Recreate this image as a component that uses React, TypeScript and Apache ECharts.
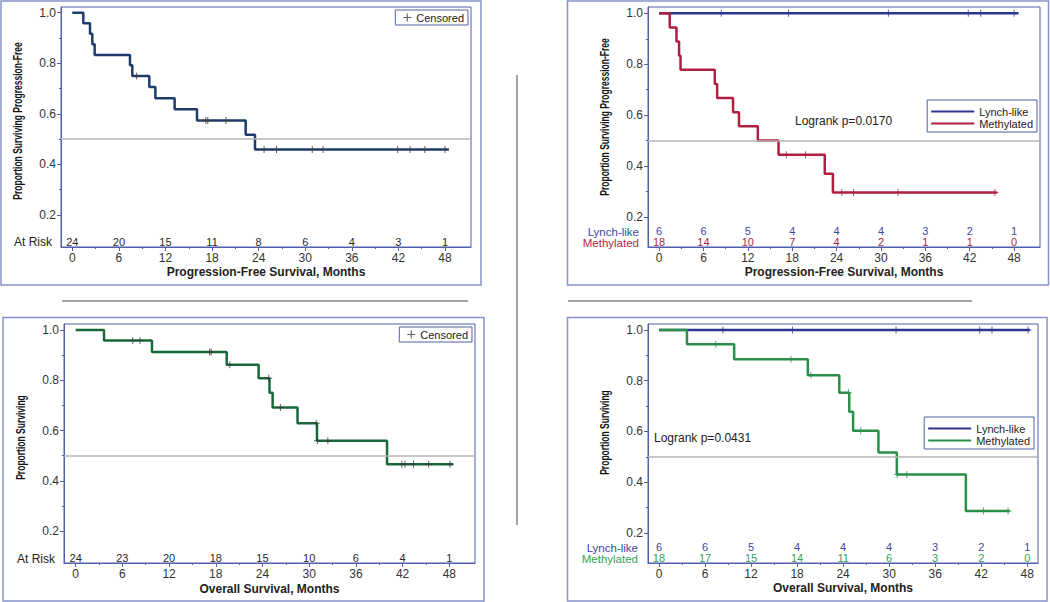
import React, { useEffect, useRef } from "react";
import * as echarts from "echarts";

// ---------- axis ticks ----------
const MONTH_TICKS = [0, 6, 12, 18, 24, 30, 36, 42, 48];
const MONTH_MINOR = [3, 9, 15, 21, 27, 33, 39, 45];
const Y_TICKS = [0.2, 0.4, 0.6, 0.8, 1.0];
const Y_MINOR = [0.3, 0.5, 0.7, 0.9];

// ---------- Panel A: PFS, all patients ----------
const pfsAllTime = [0, 1.42, 2.28, 2.58, 2.88, 7.43, 7.73, 9.92, 10.7, 13.18, 16.06, 22.33, 23.53, 48.5];
const pfsAllSurv = [1.0, 0.958, 0.917, 0.875, 0.833, 0.792, 0.75, 0.706, 0.662, 0.618, 0.574, 0.517, 0.459, 0.459];
const pfsAllCensTime = [8.29, 17.2, 17.45, 19.8, 24.7, 26.3, 30.9, 32.3, 41.9, 43.5, 45.4, 48.0];
const pfsAllCensSurv = [0.75, 0.574, 0.574, 0.574, 0.459, 0.459, 0.459, 0.459, 0.459, 0.459, 0.459, 0.459];
const pfsAllAtRisk = [24, 20, 15, 11, 8, 6, 4, 3, 1];

// ---------- Panel B: PFS by group ----------
const pfsLynchTime = [0, 48.6];
const pfsLynchSurv = [1.0, 1.0];
const pfsLynchCensTime = [8.4, 17.5, 31.0, 41.8, 43.5, 48.0];
const pfsLynchCensSurv = [1.0, 1.0, 1.0, 1.0, 1.0, 1.0];
const pfsMethTime = [0, 1.44, 2.35, 2.7, 2.9, 7.53, 7.85, 10.0, 10.8, 13.35, 16.15, 22.4, 23.5, 45.7];
const pfsMethSurv = [1.0, 0.944, 0.889, 0.833, 0.778, 0.722, 0.667, 0.611, 0.556, 0.5, 0.444, 0.37, 0.296, 0.296];
const pfsMethCensTime = [17.2, 19.8, 24.7, 26.3, 32.3, 45.4];
const pfsMethCensSurv = [0.444, 0.444, 0.296, 0.296, 0.296, 0.296];
const pfsLynchAtRisk = [6, 6, 5, 4, 4, 4, 3, 2, 1];
const pfsMethAtRisk = [18, 14, 10, 7, 4, 2, 1, 1, 0];
const pfsLogrank = "Logrank p=0.0170";

// ---------- Panel C: OS, all patients ----------
const osAllTime = [0, 3.64, 9.8, 19.4, 23.5, 24.9, 25.3, 28.5, 31.0, 40.0, 48.5];
const osAllSurv = [1.0, 0.958, 0.913, 0.862, 0.808, 0.75, 0.692, 0.629, 0.559, 0.466, 0.466];
const osAllCensTime = [7.33, 8.27, 17.2, 17.4, 19.8, 24.8, 26.3, 30.9, 31.05, 32.4, 41.9, 42.3, 43.4, 45.35, 48.1];
const osAllCensSurv = [0.958, 0.958, 0.913, 0.913, 0.862, 0.808, 0.692, 0.629, 0.559, 0.559, 0.466, 0.466, 0.466, 0.466, 0.466];
const osAllAtRisk = [24, 23, 20, 18, 15, 10, 6, 4, 1];

// ---------- Panel D: OS by group ----------
const osLynchTime = [0, 48.35];
const osLynchSurv = [1.0, 1.0];
const osLynchCensTime = [8.33, 17.4, 30.9, 41.8, 43.4, 48.1];
const osLynchCensSurv = [1.0, 1.0, 1.0, 1.0, 1.0, 1.0];
const osMethTime = [0, 3.65, 9.8, 19.4, 23.5, 24.8, 25.3, 28.6, 31.0, 40.0, 45.7];
const osMethSurv = [1.0, 0.944, 0.885, 0.822, 0.753, 0.678, 0.603, 0.517, 0.431, 0.287, 0.287];
const osMethCensTime = [7.4, 17.2, 19.8, 24.7, 26.3, 31.05, 32.3, 42.3, 45.5];
const osMethCensSurv = [0.944, 0.885, 0.822, 0.753, 0.603, 0.431, 0.431, 0.287, 0.287];
const osLynchAtRisk = [6, 6, 5, 4, 4, 4, 3, 2, 1];
const osMethAtRisk = [18, 17, 15, 14, 11, 6, 3, 2, 0];
const osLogrank = "Logrank p=0.0431";

// ---------- styles ----------
const FONT = "'Liberation Sans', Arial, Helvetica, sans-serif";
const FRAME = "#4f5fae";
const OUTER = "#8593cc";
const SEP = "#a3a3a3";
const NAVY = "#1f3a6c";
const LYNCH = "#2c3590";
const LYNCH_TXT = "#3e47a2";
const METH_PFS = "#b01f3f";
const OS_ALL = "#17693a";
const METH_OS = "#2a8f49";
const METH_OS_TXT = "#35a356";
const CENS = "#3a3a3a";
const RISK_TXT = "#2a2a2a";
const PLUS = "path://M4.3,0H5.7V4.3H10V5.7H5.7V10H4.3V5.7H0V4.3H4.3Z";
const LINE_ICON = "path://M0,0H0.01V0.01H0Z M0,4.5H43V6.5H0Z M42.99,10.99H43V11H42.99Z";

const pairs = (t: number[], s: number[]) => t.map((x, i) => [x, s[i]]);

type Panel = {
  grid: { left: number; top: number; width: number; height: number };
  xMin: number; xMax: number; yMin: number; yMax: number;
  xName: string; xNameGap: number;
};

const panels: Panel[] = [
  { grid: { left: 61, top: 7, width: 410, height: 240 }, xMin: -1.455, xMax: 51.35, yMin: 0.0735, yMax: 1.0225, xName: "Progression-Free Survival, Months", xNameGap: 19 },
  { grid: { left: 648, top: 7, width: 392, height: 240 }, xMin: -1.5, xMax: 51.5, yMin: 0.082, yMax: 1.025, xName: "Progression-Free Survival, Months", xNameGap: 19 },
  { grid: { left: 64, top: 324, width: 411, height: 239 }, xMin: -1.5, xMax: 51.3, yMin: 0.0726, yMax: 1.024, xName: "Overall Survival, Months", xNameGap: 20 },
  { grid: { left: 648, top: 324, width: 390, height: 239 }, xMin: -1.43, xMax: 49.4, yMin: 0.0818, yMax: 1.0236, xName: "Overall Survival, Months", xNameGap: 19 },
];

export default function App() {
  const ref = useRef<HTMLDivElement>(null);

  useEffect(() => {
    if (!ref.current) return;
    const chart = echarts.init(ref.current, undefined, { renderer: "svg" });

    const grids: any[] = [];
    const xAxes: any[] = [];
    const yAxes: any[] = [];
    const series: any[] = [];
    const mainX: number[] = [];
    const mainY: number[] = [];

    panels.forEach((p, i) => {
      grids.push({ ...p.grid, show: true, borderColor: FRAME, borderWidth: 1, backgroundColor: "transparent" });
      mainX.push(xAxes.length);
      xAxes.push({
        gridIndex: i, type: "value", min: p.xMin, max: p.xMax, position: "bottom",
        axisLine: { show: true, onZero: false, lineStyle: { color: FRAME, width: 1 } },
        axisTick: { show: true, length: 4, customValues: MONTH_TICKS, lineStyle: { color: FRAME } },
        axisLabel: { show: true, customValues: MONTH_TICKS, margin: 5, color: "#333", fontSize: 12, fontFamily: FONT },
        splitLine: { show: false },
        name: p.xName, nameLocation: "middle", nameGap: p.xNameGap,
        nameTextStyle: { fontWeight: "bold", fontSize: 12, color: "#222", fontFamily: FONT },
      });
      xAxes.push({
        gridIndex: i, type: "value", min: p.xMin, max: p.xMax, position: "bottom",
        axisLine: { show: false, onZero: false },
        axisTick: { show: true, length: 2, customValues: MONTH_MINOR, lineStyle: { color: FRAME } },
        axisLabel: { show: false },
        splitLine: { show: false },
      });
      mainY.push(yAxes.length);
      yAxes.push({
        gridIndex: i, type: "value", min: p.yMin, max: p.yMax, position: "left",
        axisLine: { show: true, onZero: false, lineStyle: { color: FRAME, width: 1 } },
        axisTick: { show: true, length: 4, customValues: Y_TICKS, lineStyle: { color: FRAME } },
        axisLabel: { show: true, customValues: Y_TICKS, margin: 5, color: "#333", fontSize: 12, fontFamily: FONT, formatter: (v: number) => v.toFixed(1) },
        splitLine: { show: false },
      });
      yAxes.push({
        gridIndex: i, type: "value", min: p.yMin, max: p.yMax, position: "left",
        axisLine: { show: false, onZero: false },
        axisTick: { show: true, length: 2, customValues: Y_MINOR, lineStyle: { color: FRAME } },
        axisLabel: { show: false },
        splitLine: { show: false },
      });
    });

    const atRiskAxis = (i: number, counts: number[], color: string, margin: number) => {
      const p = panels[i];
      xAxes.push({
        gridIndex: i, type: "value", min: p.xMin, max: p.xMax, position: "bottom",
        axisLine: { show: false, onZero: false }, axisTick: { show: false }, splitLine: { show: false },
        axisLabel: {
          show: true, inside: true, margin, customValues: MONTH_TICKS, color, fontSize: 11, fontFamily: FONT,
          formatter: (v: number) => String(counts[MONTH_TICKS.indexOf(v)]),
        },
      });
    };
    atRiskAxis(0, pfsAllAtRisk, RISK_TXT, 0);
    atRiskAxis(1, pfsLynchAtRisk, LYNCH_TXT, 11);
    atRiskAxis(1, pfsMethAtRisk, METH_PFS, 0);
    atRiskAxis(2, osAllAtRisk, RISK_TXT, 0);
    atRiskAxis(3, osLynchAtRisk, LYNCH_TXT, 11);
    atRiskAxis(3, osMethAtRisk, METH_OS_TXT, 0);

    const refLine = (i: number) => ({
      type: "line", name: "ref" + i, xAxisIndex: mainX[i], yAxisIndex: mainY[i], data: [], z: 1, silent: true,
      markLine: {
        silent: true, symbol: ["none", "none"], label: { show: false }, animation: false,
        lineStyle: { color: "#b5b5b5", type: "solid", width: 1.5 },
        data: [{ yAxis: 0.5 }],
      },
    });
    const km = (i: number, name: string, t: number[], s: number[], color: string) => ({
      type: "line", name, xAxisIndex: mainX[i], yAxisIndex: mainY[i], data: pairs(t, s), step: "end",
      symbol: "none", showSymbol: false, z: 3, color,
      lineStyle: { color, width: 2.5 }, itemStyle: { color },
    });
    const cens = (i: number, name: string, t: number[], s: number[], color: string) => ({
      type: "scatter", name, xAxisIndex: mainX[i], yAxisIndex: mainY[i], data: pairs(t, s),
      symbol: PLUS, symbolSize: 7, z: 4, itemStyle: { color },
    });

    series.push(refLine(0), km(0, "PFS (all)", pfsAllTime, pfsAllSurv, NAVY), cens(0, "Censored", pfsAllCensTime, pfsAllCensSurv, CENS));
    series.push(
      refLine(1),
      km(1, "Lynch-like", pfsLynchTime, pfsLynchSurv, LYNCH),
      km(1, "Methylated (PFS)", pfsMethTime, pfsMethSurv, METH_PFS),
      cens(1, "Lynch-like censored (PFS)", pfsLynchCensTime, pfsLynchCensSurv, LYNCH),
      cens(1, "Methylated censored (PFS)", pfsMethCensTime, pfsMethCensSurv, METH_PFS)
    );
    series.push(refLine(2), km(2, "OS (all)", osAllTime, osAllSurv, OS_ALL), cens(2, "Censored", osAllCensTime, osAllCensSurv, CENS));
    series.push(
      refLine(3),
      km(3, "Lynch-like", osLynchTime, osLynchSurv, LYNCH),
      km(3, "Methylated (OS)", osMethTime, osMethSurv, METH_OS),
      cens(3, "Lynch-like censored (OS)", osLynchCensTime, osLynchCensSurv, LYNCH),
      cens(3, "Methylated censored (OS)", osMethCensTime, osMethCensSurv, METH_OS)
    );

    const legendBase = {
      orient: "vertical", borderColor: FRAME, borderWidth: 1, backgroundColor: "#fff",
      selectedMode: false, textStyle: { fontSize: 11, color: "#222", fontFamily: FONT },
      formatter: (n: string) => n.split(" (")[0],
    };
    const lineItems = (names: string[]) => names.map((name) => ({ name, icon: LINE_ICON }));
    const legends = [
      { ...legendBase, data: ["Censored"], right: 1050 - 468, top: 10, itemWidth: 8, itemHeight: 8, padding: [2, 4, 2, 8] },
      { ...legendBase, data: lineItems(["Lynch-like", "Methylated (PFS)"]), right: 13, top: 100, itemWidth: 43, itemHeight: 11, itemGap: 1, padding: [6, 4, 3, 4] },
      { ...legendBase, data: ["Censored"], right: 1050 - 472, top: 327, itemWidth: 8, itemHeight: 8, padding: [2, 4, 2, 8] },
      { ...legendBase, data: lineItems(["Lynch-like", "Methylated (OS)"]), right: 16, top: 417, itemWidth: 43, itemHeight: 11, itemGap: 1, padding: [6, 4, 3, 4] },
    ];

    const txt = (text: string, x: number, y: number, opts: any = {}) => ({
      type: "text", x, y, silent: true,
      style: { text, fill: opts.fill || "#222", font: opts.font || `12px ${FONT}`, align: opts.align || "left", verticalAlign: "middle" },
    });
    const yTitle = (text: string, x: number, y: number) => ({
      type: "text", x, y, rotation: Math.PI / 2, scaleX: 0.71, scaleY: 1, silent: true,
      style: { text, fill: "#111", font: `bold 12px ${FONT}`, align: "center", verticalAlign: "middle" },
    });
    const frame = (x: number, y: number, w: number, h: number) => ({
      type: "rect", shape: { x, y, width: w, height: h }, silent: true, z: -1,
      style: { fill: "none", stroke: OUTER, lineWidth: 1.5 },
    });
    const sepLine = (x1: number, y1: number, x2: number, y2: number) => ({
      type: "line", shape: { x1, y1, x2, y2 }, silent: true,
      style: { stroke: SEP, lineWidth: 2 },
    });

    const graphic = [
      frame(1, 1, 480, 284),
      frame(567.5, 1, 481, 284),
      frame(3, 317.5, 481, 283.5),
      frame(567.5, 317.5, 479.5, 283.5),
      sepLine(517, 75, 517, 525),
      sepLine(62, 301, 468, 301),
      sepLine(568, 301, 972, 301),
      yTitle("Proportion Surviving Progression-Free", 17.5, 121),
      yTitle("Proportion Surviving Progression-Free", 605, 117),
      yTitle("Proportion Surviving", 21, 437.5),
      yTitle("Proportion Surviving", 604.5, 432.5),
      txt("At Risk", 52, 242, { align: "right" }),
      txt("At Risk", 55, 558.5, { align: "right" }),
      txt("Lynch-like", 639, 231.5, { align: "right", fill: LYNCH_TXT, font: `11.5px ${FONT}` }),
      txt("Methylated", 639, 242.5, { align: "right", fill: METH_PFS, font: `11.5px ${FONT}` }),
      txt("Lynch-like", 638, 547.5, { align: "right", fill: LYNCH_TXT, font: `11.5px ${FONT}` }),
      txt("Methylated", 638, 558.5, { align: "right", fill: METH_OS_TXT, font: `11.5px ${FONT}` }),
      txt(pfsLogrank, 795, 121),
      txt(osLogrank, 654, 437.5),
    ];

    chart.setOption({
      animation: false,
      backgroundColor: "#ffffff",
      textStyle: { fontFamily: FONT },
      grid: grids,
      xAxis: xAxes,
      yAxis: yAxes,
      legend: legends,
      series,
      graphic,
    });

    return () => chart.dispose();
  }, []);

  return (
    <div
      ref={ref}
      style={{ position: "absolute", left: 0, top: 0, width: 1050, height: 602, background: "#fff" }}
    />
  );
}
